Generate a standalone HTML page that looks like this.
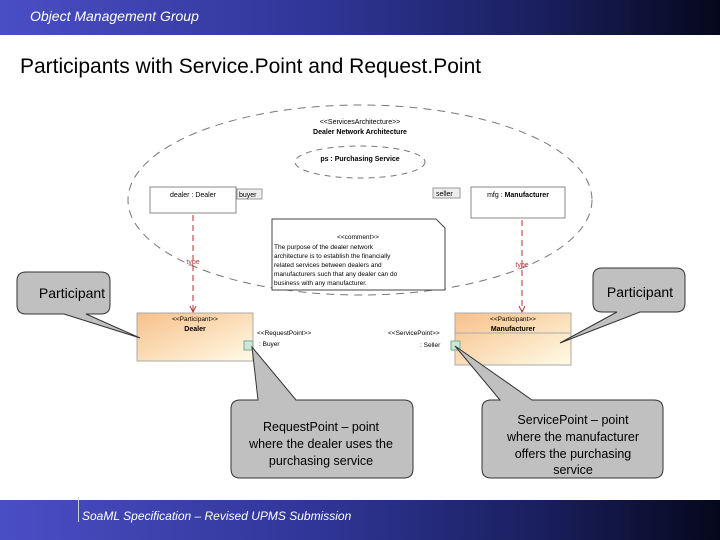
<!DOCTYPE html>
<html><head><style>
body{margin:0;width:720px;height:540px;overflow:hidden;background:#fff;font-family:"Liberation Sans",sans-serif;position:relative}
.hdr{position:absolute;left:0;top:0;width:720px;height:35px;background:linear-gradient(90deg,#4a4ec4 0%,#2f3596 45%,#1a1f5e 75%,#05081c 100%)}
.ftr{position:absolute;left:0;top:500px;width:720px;height:40px;background:linear-gradient(90deg,#4a4ec4 0%,#2f3596 45%,#1a1f5e 75%,#05081c 100%)}
.t{position:absolute;white-space:nowrap}
</style></head><body>
<div class="hdr"></div>
<div class="t" style="left:30px;top:8px;color:#fff;font-style:italic;font-size:14px">Object Management Group</div>
<div class="t" style="left:20px;top:55px;font-size:21px;color:#000">Participants with Service.Point and Request.Point</div>
<div class="ftr"></div>
<div style="position:absolute;left:78px;top:497px;width:1px;height:25px;background:#ccc"></div>
<div class="t" style="left:82px;top:509px;color:#fff;font-style:italic;font-size:12px">SoaML Specification – Revised UPMS Submission</div>
<svg width="720" height="540" style="position:absolute;left:0;top:0" font-family="Liberation Sans, sans-serif">
<defs>
<linearGradient id="g" x1="0" y1="0" x2="1" y2="1"><stop offset="0" stop-color="#f7c08a"/><stop offset="1" stop-color="#fffbe6"/></linearGradient>
</defs>
<ellipse cx="360" cy="200" rx="232" ry="95" fill="none" stroke="#777" stroke-dasharray="8,6"/>
<ellipse cx="360" cy="162" rx="65" ry="16" fill="none" stroke="#777" stroke-dasharray="6,5"/>
<text x="360" y="124" font-size="7" text-anchor="middle">&lt;&lt;ServicesArchitecture&gt;&gt;</text>
<text x="360" y="134" font-size="7" font-weight="bold" text-anchor="middle">Dealer Network Architecture</text>
<text x="360" y="161" font-size="7" font-weight="bold" text-anchor="middle">ps : Purchasing Service</text>
<rect x="150" y="187" width="86" height="26" fill="#fff" stroke="#888"/>
<text x="193" y="197" font-size="7" text-anchor="middle">dealer : Dealer</text>
<rect x="237" y="189" width="25" height="10" fill="#eee" stroke="#999"/>
<text x="239" y="197" font-size="7">buyer</text>
<rect x="433" y="188" width="27" height="10" fill="#eee" stroke="#999"/>
<text x="436" y="196" font-size="7">seller</text>
<rect x="471" y="187" width="94" height="31" fill="#fff" stroke="#888"/>
<text x="518" y="197" font-size="7" text-anchor="middle">mfg : <tspan font-weight="bold">Manufacturer</tspan></text>
<path d="M272 219 H436 L445 228 V290 H272 Z" fill="#fff" stroke="#444"/>
<text x="358" y="239" font-size="6.5" text-anchor="middle">&lt;&lt;comment&gt;&gt;</text>
<g font-size="6.5"><text x="274" y="249">The purpose of the dealer network</text><text x="274" y="258">architecture is to establish the financially</text><text x="274" y="267">related services between dealers and</text><text x="274" y="276">manufacturers such that any dealer can do</text><text x="274" y="285">business with any manufacturer.</text></g>
<g stroke="#b33" stroke-dasharray="6,4" fill="none"><line x1="193" y1="215" x2="193" y2="311"/><line x1="522" y1="220" x2="522" y2="311"/></g>
<g stroke="#b33" fill="none"><path d="M190 306 L193 312 L196 306"/><path d="M519 306 L522 312 L525 306"/></g>
<text x="193" y="264" font-size="7" fill="#b33" text-anchor="middle">type</text>
<text x="522" y="267" font-size="7" fill="#b33" text-anchor="middle">type</text>
<rect x="137" y="313" width="116" height="48" fill="url(#g)" stroke="#aaa"/>
<text x="195" y="321" font-size="6.5" text-anchor="middle">&lt;&lt;Participant&gt;&gt;</text>
<text x="195" y="331" font-size="7" font-weight="bold" text-anchor="middle">Dealer</text>
<rect x="455" y="313" width="116" height="52" fill="url(#g)" stroke="#aaa"/>
<line x1="455" y1="333" x2="571" y2="333" stroke="#aaa"/>
<text x="513" y="321" font-size="6.5" text-anchor="middle">&lt;&lt;Participant&gt;&gt;</text>
<text x="513" y="331" font-size="7" font-weight="bold" text-anchor="middle">Manufacturer</text>
<rect x="244" y="341" width="9" height="9" fill="#cfe6d6" stroke="#7a9"/>
<rect x="451" y="341" width="9" height="9" fill="#cfe6d6" stroke="#7a9"/>
<text x="257" y="335" font-size="6.5">&lt;&lt;RequestPoint&gt;&gt;</text>
<text x="259" y="346" font-size="6.5">: Buyer</text>
<text x="388" y="335" font-size="6.5">&lt;&lt;ServicePoint&gt;&gt;</text>
<text x="420" y="347" font-size="6.5">: Seller</text>
<g fill="#c0c0c0" stroke="#333" stroke-width="1">
<path d="M26 272 H101 Q110 272 110 281 V305 Q110 314 101 314 H86 L140 338 L64 314 H26 Q17 314 17 305 V281 Q17 272 26 272 Z"/>
<path d="M602 268 H676 Q685 268 685 277 V303 Q685 312 676 312 H640 L560 343 L617 312 H602 Q593 312 593 303 V277 Q593 268 602 268 Z"/>
<path d="M240 400 H258 L252 347 L296 400 H404 Q413 400 413 409 V469 Q413 478 404 478 H240 Q231 478 231 469 V409 Q231 400 240 400 Z"/>
<path d="M491 400 H500 L455 346 L532 400 H654 Q663 400 663 409 V469 Q663 478 654 478 H491 Q482 478 482 469 V409 Q482 400 491 400 Z"/>
</g>
<g font-size="14" text-anchor="middle" fill="#000"><text x="72" y="298">Participant</text><text x="640" y="297">Participant</text></g>
<g font-size="12.5" text-anchor="middle" fill="#000">
<text x="321" y="431">RequestPoint – point</text><text x="321" y="448">where the dealer uses the</text><text x="321" y="465">purchasing service</text>
<text x="573" y="424">ServicePoint – point</text><text x="573" y="441">where the manufacturer</text><text x="573" y="458">offers the purchasing</text><text x="573" y="474">service</text>
</g>
</svg>
</body></html>
